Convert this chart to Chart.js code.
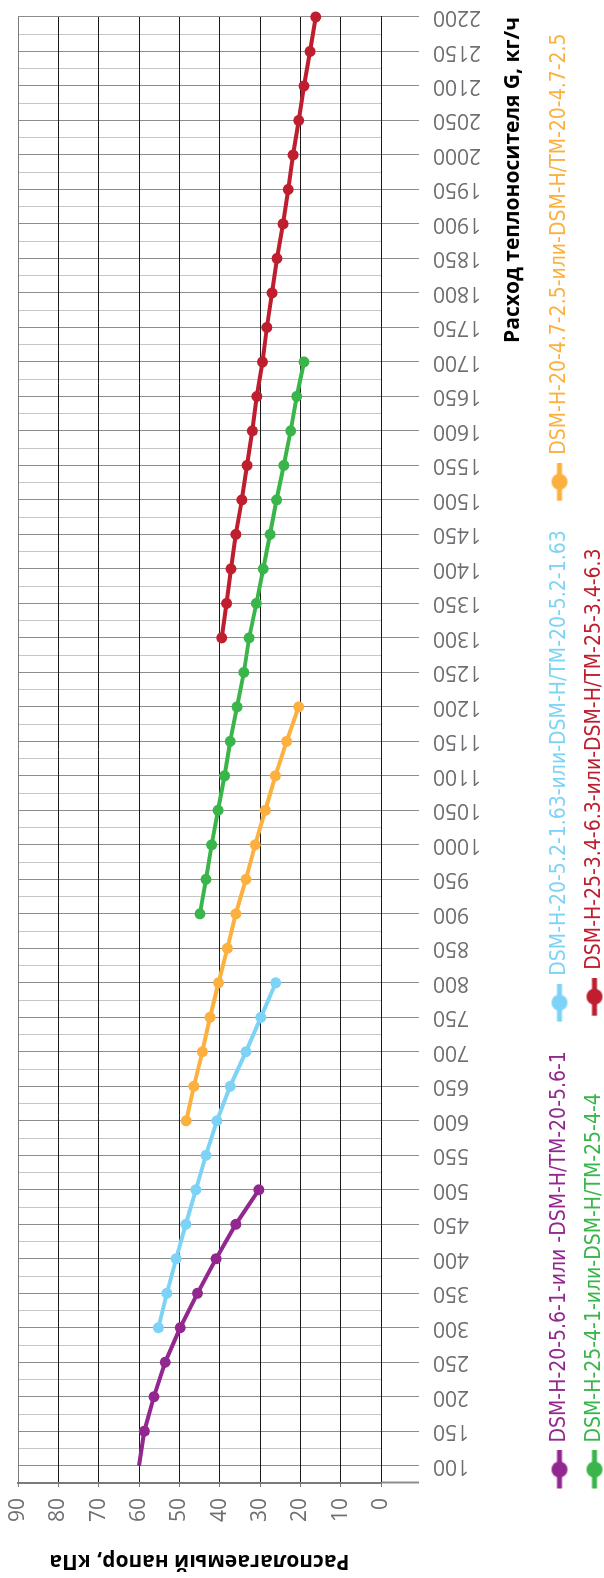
<!DOCTYPE html>
<html>
<head>
<meta charset="utf-8">
<script src="https://cdn.jsdelivr.net/npm/chart.js@4.4.1/dist/chart.umd.min.js"></script>
<style>
  html, body { margin: 0; padding: 0; overflow: hidden; background: #fff; width: 604px; height: 1578px; }
  /* chart is drawn landscape and turned a quarter turn to the left */
  #wrap { position: absolute; left: 0; top: 0; width: 1578px; height: 604px;
          transform-origin: 0 0; transform: translate(0, 1578px) rotate(-90deg); }
</style>
</head>
<body>
<div id="wrap"><canvas id="chart" width="1578" height="604"></canvas></div>
<script>
// Data
const flowTicks = [100, 150, 200, 250, 300, 350, 400, 450, 500, 550, 600, 650, 700, 750, 800,
  850, 900, 950, 1000, 1050, 1100, 1150, 1200, 1250, 1300, 1350, 1400, 1450, 1500, 1550,
  1600, 1650, 1700, 1750, 1800, 1850, 1900, 1950, 2000, 2050, 2100, 2150, 2200];
const pressureTicks = [0, 10, 20, 30, 40, 50, 60, 70, 80, 90];

const seriesNames = [
  'DSM-H-20-5.6-1-или -DSM-H/TM-20-5.6-1',
  'DSM-H-20-5.2-1.63-или-DSM-H/TM-20-5.2-1.63',
  'DSM-H-20-4.7-2.5-или-DSM-H/TM-20-4.7-2.5',
  'DSM-H-25-4-1-или-DSM-H/TM-25-4-4',
  'DSM-H-25-3.4-6.3-или-DSM-H/TM-25-3.4-6.3'
];
const seriesColors = ['#92278f', '#7dd3f6', '#fbb040', '#39b54a', '#be1e2d'];

const flowPurple = [100, 150, 200, 250, 300, 350, 400, 450, 500];
const pressPurple = [60, 58.7, 56.3, 53.5, 49.8, 45.5, 40.9, 36.0, 30.3];

const flowBlue = [300, 350, 400, 450, 500, 550, 600, 650, 700, 750, 800];
const pressBlue = [55.2, 53.1, 50.8, 48.4, 45.9, 43.4, 40.7, 37.4, 33.5, 29.8, 26.1];

const flowOrange = [600, 650, 700, 750, 800, 850, 900, 950, 1000, 1050, 1100, 1150, 1200];
const pressOrange = [48.3, 46.4, 44.3, 42.4, 40.3, 38.1, 36.0, 33.5, 31.2, 28.7, 26.2, 23.4, 20.4];

const flowGreen = [900, 950, 1000, 1050, 1100, 1150, 1200, 1250, 1300, 1350, 1400, 1450, 1500,
  1550, 1600, 1650, 1700];
const pressGreen = [44.9, 43.4, 42.0, 40.4, 38.8, 37.4, 35.7, 34.0, 32.7, 30.9, 29.2, 27.5, 25.9,
  24.1, 22.4, 20.9, 19.1];

const flowRed = [1300, 1350, 1400, 1450, 1500, 1550, 1600, 1650, 1700, 1750, 1800, 1850, 1900,
  1950, 2000, 2050, 2100, 2150, 2200];
const pressRed = [39.5, 38.3, 37.2, 36.0, 34.5, 33.2, 31.9, 30.8, 29.4, 28.3, 27.0, 25.8, 24.3,
  23.0, 21.8, 20.4, 19.1, 17.6, 16.2];

// grid every 25 kg/h and 5 kPa, labels only on the listed ticks
const flowGrid = flowTicks.flatMap(v => [v - 25, v]);
const pressureGrid = pressureTicks.flatMap(v => (v === 0 ? [0] : [v - 5, v]));

const tickFont = { family: "'Open Sans', sans-serif", size: 21 };
const titleFont = { family: "'Open Sans', sans-serif", size: 21, weight: 'bold', lineHeight: 1 };
const legendFont = { family: "'DejaVu Sans Condensed', 'DejaVu Sans', sans-serif", size: 21 };

function makeDataset(i, flows, values, hideFirst) {
  return {
    label: seriesNames[i],
    data: flows.map((x, k) => ({ x, y: values[k] })),
    borderColor: seriesColors[i],
    backgroundColor: seriesColors[i],
    pointBackgroundColor: seriesColors[i],
    pointBorderWidth: 0,
    pointRadius: c => (hideFirst && c.dataIndex === 0 ? 0 : 5.5),
    borderWidth: 4,
    tension: 0,
    clip: false
  };
}

// legend marker: short line with a dot, like the spreadsheet legend
function makeLegendIcon(color) {
  const c = document.createElement('canvas');
  c.width = 56;
  c.height = 18;
  const g = c.getContext('2d');
  g.strokeStyle = color;
  g.lineWidth = 5;
  g.beginPath();
  g.moveTo(18, 9);
  g.lineTo(56, 9);
  g.stroke();
  g.fillStyle = color;
  g.beginPath();
  g.arc(37, 9, 8, 0, Math.PI * 2);
  g.fill();
  return c;
}
const legendIcons = seriesColors.map(makeLegendIcon);

// move the legend rows to start under the plot
const legendShift = {
  id: 'legendShift',
  afterLayout(chart) {
    const lg = chart.legend;
    lg.left += 60;
    lg.right += 150;
    lg.top += 11;
    lg.bottom += 11;
  }
};

const ctx = document.getElementById('chart').getContext('2d');
new Chart(ctx, {
  type: 'line',
  data: {
    datasets: [
      makeDataset(0, flowPurple, pressPurple, true),
      makeDataset(1, flowBlue, pressBlue),
      makeDataset(2, flowOrange, pressOrange),
      makeDataset(3, flowGreen, pressGreen),
      makeDataset(4, flowRed, pressRed)
    ]
  },
  options: {
    responsive: false,
    animation: false,
    events: [],
    layout: { padding: { top: 18, right: 0, bottom: 0, left: 0 } },
    plugins: {
      tooltip: { enabled: false },
      legend: {
        position: 'bottom',
        align: 'start',
        labels: {
          usePointStyle: true,
          pointStyleWidth: 51,
          padding: 14,
          font: legendFont,
          generateLabels(chart) {
            const items = Chart.defaults.plugins.legend.labels.generateLabels(chart);
            items.forEach((it, i) => {
              it.pointStyle = legendIcons[i];
              it.fontColor = seriesColors[i];
            });
            // widen the first entry of row two so the red entry sits in the blue one's column
            items[3].text += '        ';
            return items;
          }
        }
      }
    },
    scales: {
      x: {
        type: 'linear',
        min: 75,
        max: 2200,
        afterBuildTicks: s => { s.ticks = flowGrid.map(v => ({ value: v })); },
        afterFit: s => {
          s.height = 143;
          s.paddingLeft = 0;
          s.paddingRight = 17;
        },
        grid: {
          color: c => (c.tick.value % 50 === 0 ? '#8c8c8c' : '#c6c6c6'),
          lineWidth: 1,
          tickLength: 38,
          tickColor: c => (c.tick.value % 50 === 0 || c.tick.value === 75 ? '#8c8c8c' : 'rgba(0,0,0,0)'),
          tickWidth: c => (c.tick.value === 75 ? 2 : 1)
        },
        border: { color: '#1a1a1a', width: 1 },
        ticks: {
          autoSkip: false,
          minRotation: 90,
          maxRotation: 90,
          padding: 14,
          color: '#6d6e71',
          font: tickFont,
          callback: v => (v % 50 === 0 ? String(v) : '')
        },
        title: {
          display: true,
          text: 'Расход теплоносителя G, кг/ч',
          align: 'end',
          color: '#000',
          font: titleFont,
          padding: { top: 0, bottom: 0 }
        }
      },
      y: {
        min: 0,
        max: 90,
        afterBuildTicks: s => { s.ticks = pressureGrid.map(v => ({ value: v })); },
        afterFit: s => {
          s.width = 95;
          s.paddingTop = 0;
          s.paddingBottom = 0;
        },
        grid: {
          color: c => (c.tick.value === 90 ? '#7a7a7a' : c.tick.value % 10 === 0 ? '#1a1a1a' : '#bdbdbd'),
          lineWidth: 1,
          tickLength: 4,
          tickColor: c => (c.tick.value % 10 === 0 ? '#7a7a7a' : 'rgba(0,0,0,0)')
        },
        border: { color: '#7a7a7a', width: 2 },
        ticks: {
          padding: 11,
          color: '#6d6e71',
          font: tickFont,
          callback: v => (v % 10 === 0 ? String(v) : '')
        },
        title: {
          display: true,
          text: 'Располагаемый напор, кПа',
          color: '#000',
          font: titleFont,
          padding: { top: 7, bottom: 0 }
        }
      }
    }
  },
  plugins: [legendShift]
});
</script>
</body>
</html>
